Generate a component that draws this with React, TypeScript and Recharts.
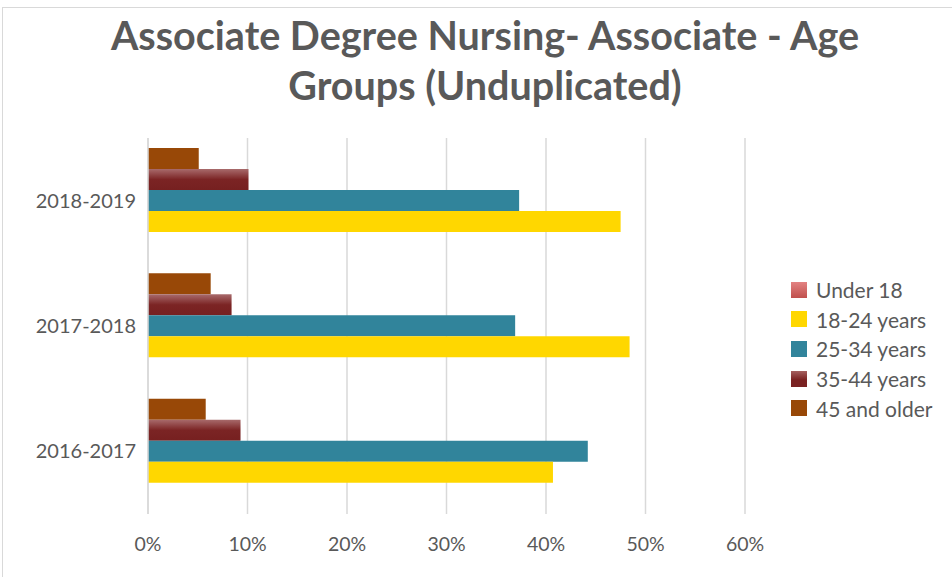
import { BarChart, Bar, XAxis, YAxis, CartesianGrid } from 'recharts'

const years = ['2018-2019', '2017-2018', '2016-2017']
const under18 = [0, 0, 0]
const age18to24 = [0.475, 0.484, 0.407]
const age25to34 = [0.373, 0.369, 0.442]
const age35to44 = [0.101, 0.084, 0.093]
const age45plus = [0.051, 0.063, 0.058]
const xTicks = [0, 0.1, 0.2, 0.3, 0.4, 0.5, 0.6]

const data = years.map((year, i) => ({
  year,
  under18: under18[i],
  a18: age18to24[i],
  a25: age25to34[i],
  a35: age35to44[i],
  a45: age45plus[i],
}))

// legend order as in the original (bottom bar first)
const legendItems = [
  { label: 'Under 18', swatch: 'linear-gradient(#e38282, #c0504d)' },
  { label: '18-24 years', swatch: '#ffd700' },
  { label: '25-34 years', swatch: '#31849b' },
  { label: '35-44 years', swatch: 'linear-gradient(#a5605f, #7a2222 55%)' },
  { label: '45 and older', swatch: '#984807' },
]

const gray = '#595959'
const font = 'Lato, "Open Sans", sans-serif'

function LegendBox() {
  return (
    <div style={{ fontFamily: font, fontSize: 21, color: gray }}>
      {legendItems.map((it) => (
        <div key={it.label} style={{ display: 'flex', alignItems: 'center', height: 29.6 }}>
          <span style={{ width: 16, height: 16, background: it.swatch, marginRight: 9, display: 'inline-block' }} />
          <span>{it.label}</span>
        </div>
      ))}
    </div>
  )
}

export default function App() {
  return (
    <div style={{ position: 'absolute', left: 0, top: 0, width: 952, height: 577, background: '#fff', overflow: 'hidden' }}>
      <div style={{ position: 'absolute', left: 2, top: 7, width: 980, height: 600, border: '1px solid #d9d9d9' }} />
      <div
        style={{
          position: 'absolute',
          left: 0,
          top: 10,
          width: 970,
          textAlign: 'center',
          fontFamily: font,
          fontWeight: 700,
          fontSize: 39.5,
          lineHeight: '50px',
          color: gray,
        }}
      >
        Associate Degree Nursing- Associate - Age
        <br />
        Groups (Unduplicated)
      </div>
      <div style={{ position: 'absolute', left: 0, top: 0 }}>
        <BarChart
          width={952}
          height={577}
          data={data}
          layout="vertical"
          margin={{ top: 138, right: 207, bottom: 33, left: 0 }}
          barCategoryGap="8%"
          barGap={0}
        >
          <defs>
            <linearGradient id="grad3544" x1="0" y1="0" x2="0" y2="1">
              <stop offset="0%" stopColor="#a86a6b" />
              <stop offset="50%" stopColor="#7b2424" />
              <stop offset="100%" stopColor="#762020" />
            </linearGradient>
            <linearGradient id="gradUnder18" x1="0" y1="0" x2="0" y2="1">
              <stop offset="0%" stopColor="#e38282" />
              <stop offset="100%" stopColor="#c0504d" />
            </linearGradient>
          </defs>
          <CartesianGrid horizontal={false} stroke="#d9d9d9" strokeWidth={1.5} />
          <XAxis
            type="number"
            domain={[0, 0.6]}
            ticks={xTicks}
            tickFormatter={(v: number) => `${Math.round(v * 100)}%`}
            axisLine={false}
            tickLine={false}
            tickMargin={17}
            height={30}
            tick={{ fill: gray, fontSize: 19.5, fontFamily: font }}
          />
          <YAxis
            type="category"
            dataKey="year"
            width={148}
            axisLine={{ stroke: '#d9d9d9', strokeWidth: 1.5 }}
            tickLine={false}
            tickMargin={6}
            tick={{ fill: gray, fontSize: 20, fontFamily: font }}
          />
          <Bar dataKey="a45" name="45 and older" fill="#984807" isAnimationActive={false} />
          <Bar dataKey="a35" name="35-44 years" fill="url(#grad3544)" isAnimationActive={false} />
          <Bar dataKey="a25" name="25-34 years" fill="#31849b" isAnimationActive={false} />
          <Bar dataKey="a18" name="18-24 years" fill="#ffd700" isAnimationActive={false} />
          <Bar dataKey="under18" name="Under 18" fill="url(#gradUnder18)" isAnimationActive={false} />
        </BarChart>
      </div>
      <div style={{ position: 'absolute', left: 791, top: 275 }}>
        <LegendBox />
      </div>
    </div>
  )
}
